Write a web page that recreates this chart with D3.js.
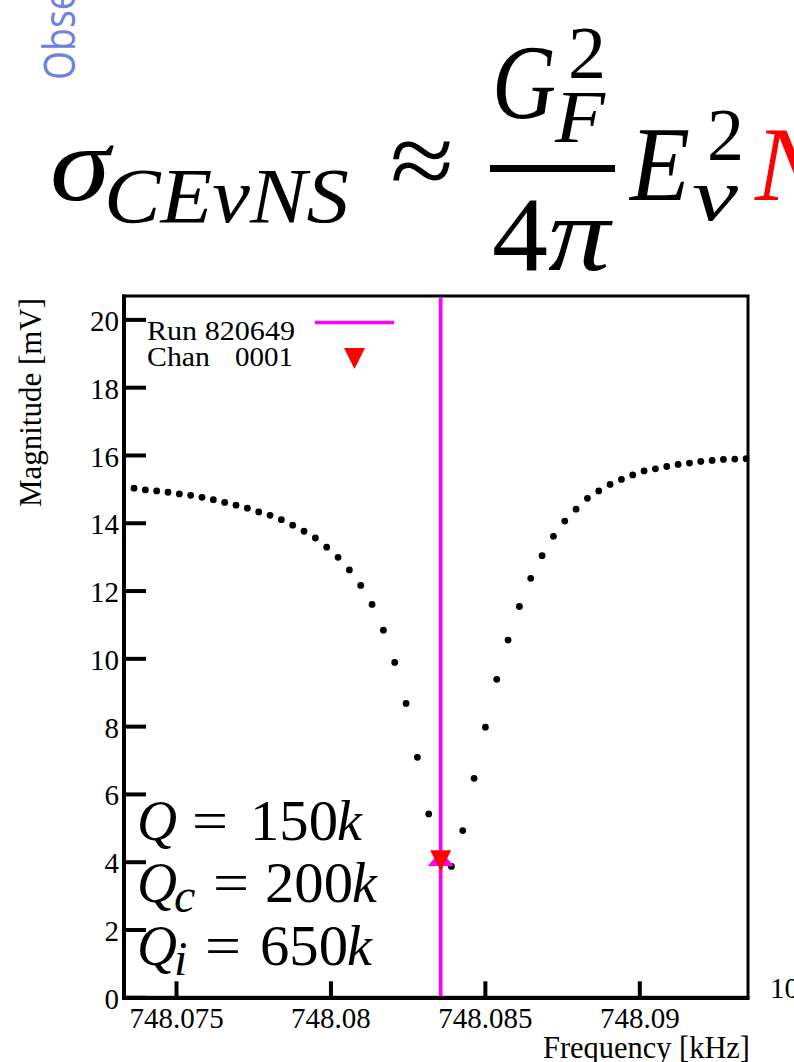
<!DOCTYPE html>
<html>
<head>
<meta charset="utf-8">
<script src="https://cdn.jsdelivr.net/npm/d3@7"></script>
<style>
  html, body { margin: 0; padding: 0; background: #fff; }
  svg { display: block; }
</style>
</head>
<body>
<div id="chart"></div>
<script>
// ---------------- data ----------------
const freqKHz = [
  748.073640, 748.074007, 748.074374, 748.074741, 748.075108, 748.075475,
  748.075842, 748.076209, 748.076576, 748.076943, 748.077310, 748.077677,
  748.078044, 748.078411, 748.078778, 748.079145, 748.079512, 748.079879,
  748.080246, 748.080613, 748.080980, 748.081347, 748.081714, 748.082081,
  748.082448, 748.082815, 748.083182, 748.083549, 748.083916, 748.084283,
  748.084650, 748.085017, 748.085384, 748.085751, 748.086118, 748.086485,
  748.086852, 748.087219, 748.087586, 748.087953, 748.088320, 748.088687,
  748.089054, 748.089421, 748.089788, 748.090155, 748.090522, 748.090889,
  748.091256, 748.091623, 748.091990, 748.092357, 748.092724, 748.093091,
  748.093458
];
const magnitudeMV = [
  15.02, 14.97, 14.94, 14.90, 14.85, 14.81,
  14.75, 14.68, 14.60, 14.52, 14.43, 14.32,
  14.22, 14.09, 13.93, 13.75, 13.55, 13.28,
  12.98, 12.61, 12.15, 11.59, 10.83, 9.88,
  8.67, 7.08, 5.41, 4.05, 3.86, 4.92,
  6.46, 7.97, 9.38, 10.54, 11.53, 12.36,
  13.03, 13.60, 14.05, 14.40, 14.72, 14.94,
  15.13, 15.28, 15.41, 15.53, 15.59, 15.66,
  15.72, 15.76, 15.81, 15.84, 15.87, 15.88,
  15.89
];
const resonanceFreq = 748.08357;   // magenta line (Run 820649)
const resonanceMag = 4.03;         // red marker (Chan 0001)
const xDomain = [748.073316, 748.093519];
const yDomain = [0, 20.69];
const xMajorTicks = [748.075, 748.08, 748.085, 748.09];
const xTickLabels = ["748.075", "748.08", "748.085", "748.09"];
const xMinorTicks = [748.074, 748.076, 748.077, 748.078, 748.079, 748.081, 748.082,
                     748.083, 748.084, 748.086, 748.087, 748.088, 748.089, 748.091,
                     748.092, 748.093];
const yMajorTicks = [0, 2, 4, 6, 8, 10, 12, 14, 16, 18, 20];
const yMinorTicks = [0.5, 1, 1.5, 2.5, 3, 3.5, 4.5, 5, 5.5, 6.5, 7, 7.5, 8.5, 9, 9.5,
                     10.5, 11, 11.5, 12.5, 13, 13.5, 14.5, 15, 15.5, 16.5, 17, 17.5,
                     18.5, 19, 19.5, 20.5];
const legendRun = "Run 820649";
const legendChan = ["Chan", "0001"];
const xTitle = "Frequency [kHz]";
const yTitle = "Magnitude [mV]";
const qLines = [
  { sub: "",  value: "150" },
  { sub: "c", value: "200" },
  { sub: "i", value: "650" }
];

// ---------------- drawing ----------------
const W = 794, H = 1062;
const SERIF = "'Liberation Serif', 'Times New Roman', serif";
const svg = d3.select("#chart").append("svg")
  .attr("width", W).attr("height", H)
  .attr("viewBox", `0 0 ${W} ${H}`);

const plot = { left: 124, right: 748, top: 296, bottom: 997.3 };
const x = d3.scaleLinear().domain(xDomain).range([plot.left, plot.right]);
const y = d3.scaleLinear().domain(yDomain).range([plot.bottom, plot.top]);

// custom marker symbols (ROOT-like triangles); size = width
const triDown = { draw(ctx, s) { const w = s / 2, h = s / 2;
  ctx.moveTo(-w, -h); ctx.lineTo(w, -h); ctx.lineTo(0, h); ctx.closePath(); } };
const triUpFlat = { draw(ctx, s) { const w = s / 2, h = s * 0.3;
  ctx.moveTo(-w, h); ctx.lineTo(w, h); ctx.lineTo(0, -h); ctx.closePath(); } };

// "Obse" rotated blue text (cut off)
svg.append("text")
  .attr("transform", "translate(75,80) rotate(-90) scale(0.85,1)")
  .attr("font-family", "'Open Sans', sans-serif")
  .attr("font-size", 44)
  .attr("fill", "#6f80e3")
  .text("Observed");

// ---------- formula ----------
const F = svg.append("g").attr("font-family", SERIF).attr("fill", "#000");
function piece(txt, px, py, size, italic, len, fill) {
  const t = F.append("text")
    .attr("x", px).attr("y", py)
    .attr("font-size", size)
    .attr("font-style", italic ? "italic" : "normal")
    .text(txt);
  if (len) t.attr("textLength", len).attr("lengthAdjust", "spacingAndGlyphs");
  if (fill) t.attr("fill", fill);
  return t;
}
piece("σ", 50, 200, 106, true, 60);
piece("CEνNS", 104, 222, 78, true, 245);
piece("≈", 390, 196, 106, false, 64);
F.append("rect").attr("x", 490).attr("y", 165).attr("width", 125).attr("height", 7);
piece("G", 492, 118, 106, true, 64);
piece("2", 568, 78, 74, false, 38);
piece("F", 555, 142, 74, true, 50);
piece("4", 492, 270, 106, false, 56);
piece("π", 548, 270, 106, true, 62);
piece("E", 630, 200, 106, true, 60);
piece("2", 707, 160, 74, false, 37);
piece("ν", 692, 220, 74, true, 46);
piece("N", 755, 200, 106, true, null, "#ff0000");

// ---------- axes ----------
const axFont = 29;
const gy = svg.append("g").attr("transform", `translate(${plot.left},0)`);
gy.call(d3.axisLeft(y).tickValues(yMinorTicks).tickSize(-12).tickFormat(""));
gy.call(d3.axisLeft(y).tickValues(yMajorTicks).tickSize(-22).tickPadding(5)
  .tickFormat(d3.format("d")));
gy.selectAll("path.domain").remove();
gy.selectAll(".tick line").attr("stroke", "#000").attr("stroke-width", 4);
gy.selectAll(".tick text").attr("font-family", SERIF).attr("font-size", axFont)
  .attr("fill", "#000").attr("dy", "0.38em");

const gx = svg.append("g").attr("transform", `translate(0,${plot.bottom})`);
gx.call(d3.axisBottom(x).tickValues(xMinorTicks).tickSize(-8).tickFormat(""));
gx.call(d3.axisBottom(x).tickValues(xMajorTicks).tickSize(-16).tickPadding(10)
  .tickFormat((d, i) => xTickLabels[i]));
gx.selectAll("path.domain").remove();
gx.selectAll(".tick line").attr("stroke", "#000").attr("stroke-width", 4);
gx.selectAll(".tick text").attr("font-family", SERIF).attr("font-size", axFont)
  .attr("fill", "#000");

// frame
svg.append("rect")
  .attr("x", plot.left).attr("y", plot.top)
  .attr("width", plot.right - plot.left).attr("height", plot.bottom - plot.top)
  .attr("fill", "none").attr("stroke", "#000").attr("stroke-width", 3);
svg.append("line").attr("x1", plot.left).attr("x2", plot.left)
  .attr("y1", plot.top - 1.5).attr("y2", plot.bottom + 2)
  .attr("stroke", "#000").attr("stroke-width", 4);
svg.append("line").attr("x1", plot.left - 2).attr("x2", plot.right + 1.5)
  .attr("y1", plot.bottom + 0.7).attr("y2", plot.bottom + 0.7)
  .attr("stroke", "#000").attr("stroke-width", 4);

// axis titles
svg.append("text")
  .attr("x", 750).attr("y", 1058)
  .attr("text-anchor", "end")
  .attr("font-family", SERIF).attr("font-size", 31)
  .attr("textLength", 207).attr("lengthAdjust", "spacingAndGlyphs")
  .text(xTitle);
svg.append("text")
  .attr("transform", "translate(41,507) rotate(-90)")
  .attr("font-family", SERIF).attr("font-size", 32)
  .attr("textLength", 209).attr("lengthAdjust", "spacingAndGlyphs")
  .text(yTitle);

// partial label from neighbouring chart
svg.append("text").attr("x", 770).attr("y", 998)
  .attr("font-family", SERIF).attr("font-size", 29).text("10");

// ---------- data ----------
const pts = freqKHz.map((f, i) => ({ f, m: magnitudeMV[i] }));
svg.append("g").selectAll("circle").data(pts).join("circle")
  .attr("cx", d => x(d.f)).attr("cy", d => y(d.m))
  .attr("r", 3.4).attr("fill", "#000");

// magenta resonance line
svg.append("line")
  .attr("x1", x(resonanceFreq)).attr("x2", x(resonanceFreq))
  .attr("y1", plot.top + 1.5).attr("y2", plot.bottom - 1)
  .attr("stroke", "#ff00ff").attr("stroke-width", 3.7);

// markers at resonance
svg.append("path")
  .attr("d", d3.symbol().type(triUpFlat).size(26)())
  .attr("transform", `translate(${x(resonanceFreq)},${y(resonanceMag) - 2.5})`)
  .attr("fill", "#ff00ff");
svg.append("path")
  .attr("d", d3.symbol().type(triDown).size(21)())
  .attr("transform", `translate(${x(resonanceFreq)},${y(resonanceMag)})`)
  .attr("fill", "#ff0000");

// ---------- legend ----------
const lg = svg.append("g").attr("font-family", SERIF).attr("font-size", 28).attr("fill", "#000");
lg.append("text").attr("x", 147).attr("y", 340)
  .attr("textLength", 148).attr("lengthAdjust", "spacingAndGlyphs").text(legendRun);
lg.append("text").attr("x", 147).attr("y", 366)
  .attr("textLength", 63).attr("lengthAdjust", "spacingAndGlyphs").text(legendChan[0]);
lg.append("text").attr("x", 235).attr("y", 366)
  .attr("textLength", 58).attr("lengthAdjust", "spacingAndGlyphs").text(legendChan[1]);
lg.append("line").attr("x1", 315).attr("x2", 394).attr("y1", 322.5).attr("y2", 322.5)
  .attr("stroke", "#ff00ff").attr("stroke-width", 3.7);
lg.append("path").attr("d", d3.symbol().type(triDown).size(21)())
  .attr("transform", "translate(354.5,358.5)")
  .attr("fill", "#ff0000");

// ---------- Q annotations ----------
const qg = svg.append("g").attr("font-family", SERIF).attr("fill", "#000");
const qBase = [840, 902, 965];
const qEq = [192, 213, 205];
const qNum = [250, 265, 260];
qLines.forEach((q, i) => {
  const b = qBase[i];
  qg.append("text").attr("x", 137).attr("y", b).attr("font-size", 56)
    .attr("font-style", "italic").attr("textLength", 40).attr("lengthAdjust", "spacingAndGlyphs").text("Q");
  if (q.sub) {
    qg.append("text").attr("x", 174).attr("y", b + 10).attr("font-size", 48)
      .attr("font-style", "italic").text(q.sub);
  }
  qg.append("text").attr("x", qEq[i]).attr("y", b).attr("font-size", 56)
    .attr("textLength", 36).attr("lengthAdjust", "spacingAndGlyphs").text("=");
  qg.append("text").attr("x", qNum[i]).attr("y", b).attr("font-size", 56)
    .attr("textLength", 88).attr("lengthAdjust", "spacingAndGlyphs").text(q.value);
  qg.append("text").attr("x", qNum[i] + 87).attr("y", b).attr("font-size", 56)
    .attr("font-style", "italic").text("k");
});
</script>
</body>
</html>
